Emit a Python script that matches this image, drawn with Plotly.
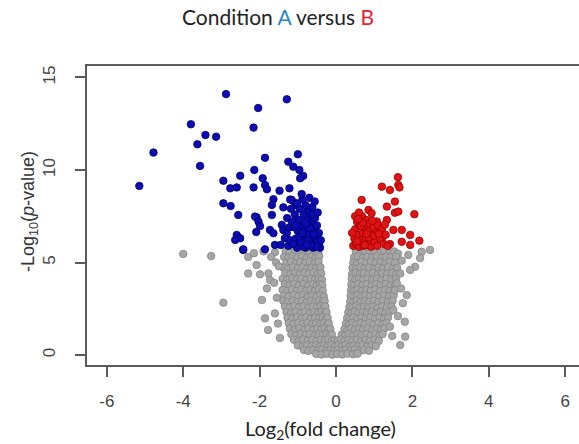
import plotly.graph_objects as go

# ---------------- data ----------------
blue_x = [-2.88, -3.80, -3.42, -3.14, -3.63, -4.78, -3.56, -5.15, -2.16, -2.04,
          -1.29, -2.95, -2.51, -2.14, -2.77, -2.60, -2.16, -2.95, -2.76, -2.56,
          -2.08, -2.60, -2.51, -2.64, -2.43, -1.86, -1.00, -1.25, -1.12, -0.96,
          -0.86, -0.94, -1.92, -1.86, -1.81, -1.48, -1.22, -1.64, -1.68, -1.38,
          -1.16, -1.07, -2.12, -2.03, -1.99, -1.68, -1.73, -1.64, -1.42, -1.38,
          -1.29, -1.34, -1.86, -2.43, -2.09, -1.60, -1.25, -1.45, -1.20, -1.22,
          -1.28, -1.18, -1.20,
          -0.42, -0.45, -0.48, -0.50, -0.52, -0.55, -0.58, -0.60, -0.60, -0.62,
          -0.65, -0.66, -0.68, -0.70, -0.70, -0.72, -0.74, -0.75, -0.78, -0.78,
          -0.80, -0.80, -0.82, -0.85, -0.85, -0.88, -0.88, -0.90, -0.92, -0.95,
          -0.95, -0.98, -1.00, -1.02, -1.02, -1.05, -1.08, -1.10, -1.12, -1.15,
          -0.50, -0.55, -0.45, -0.62, -0.70, -0.40, -0.52, -0.58, -0.66, -0.74,
          -0.84, -0.92, -0.68, -0.60, -0.80, -1.05, -0.96, -0.88, -0.76, -0.48,
          -0.56, -0.90]
blue_y = [14.10, 12.47, 11.89, 11.80, 11.39, 10.94, 10.22, 9.14, 12.29, 13.35,
          13.82, 9.42, 9.69, 10.00, 9.01, 9.06, 9.06, 8.20, 8.05, 7.57,
          7.44, 6.49, 6.31, 6.22, 5.68, 10.66, 10.85, 10.45, 10.18, 10.00,
          9.68, 9.55, 9.55, 9.19, 8.96, 8.88, 9.01, 8.42, 8.11, 7.98,
          8.38, 8.11, 7.48, 7.21, 6.97, 7.57, 6.76, 6.58, 7.03, 6.76,
          6.58, 6.31, 5.71, 5.71, 6.65, 5.95, 5.90, 5.95, 6.20, 6.90,
          7.40, 7.90, 8.40,
          5.80, 6.00, 6.30, 5.90, 6.60, 6.10, 6.90, 5.80, 6.40, 7.20,
          6.00, 6.70, 7.50, 5.90, 6.30, 7.00, 7.80, 6.50, 6.10, 7.30,
          5.80, 8.10, 6.80, 6.30, 7.60, 5.90, 8.40, 7.00, 6.50, 7.90,
          6.00, 7.30, 6.70, 5.80, 8.20, 6.30, 7.60, 6.90, 6.00, 7.20,
          7.00, 7.40, 6.60, 8.00, 8.50, 6.20, 5.85, 6.55, 5.95, 6.20,
          5.85, 6.10, 6.85, 7.60, 7.10, 7.00, 6.40, 6.60, 5.95, 7.70,
          8.30, 8.70]

red_x = [1.62, 1.20, 1.41, 1.63, 1.66, 0.67, 1.54, 1.33, 0.85, 0.93,
         1.54, 1.63, 2.05, 1.33, 1.07, 1.50, 1.72, 1.94, 1.72, 2.18,
         1.94, 1.20, 1.41, 0.89,
         0.45, 0.48, 0.50, 0.52, 0.55, 0.58, 0.60, 0.62, 0.65, 0.68,
         0.70, 0.72, 0.75, 0.78, 0.80, 0.82, 0.85, 0.88, 0.90, 0.92,
         0.95, 0.98, 1.00, 1.05, 1.08, 1.10, 1.15, 1.20, 1.25, 1.30,
         1.35, 0.50, 0.60, 0.55, 0.65, 0.75, 0.85, 0.95, 1.00, 0.70,
         1.12, 1.28, 0.42, 0.58, 0.80]
red_y = [9.61, 9.10, 8.92, 9.19, 9.06, 8.38, 8.29, 8.02, 7.84, 7.66,
         7.69, 7.75, 7.61, 7.30, 7.21, 6.76, 6.76, 6.49, 6.12, 6.18,
         5.95, 6.27, 6.00, 5.90,
         5.90, 6.30, 6.80, 6.00, 7.20, 6.50, 5.85, 7.00, 6.20, 7.50,
         6.60, 5.90, 6.90, 6.30, 7.30, 6.00, 6.70, 7.10, 6.20, 5.85,
         6.50, 6.90, 6.10, 6.60, 5.90, 7.00, 6.30, 6.80, 6.00, 6.50,
         5.90, 7.50, 7.70, 6.15, 6.95, 5.95, 6.35, 7.25, 6.45, 7.15,
         6.55, 7.05, 6.60, 7.35, 6.55]

# grey (not significant) genes, one line per band of -log10(p)
grey_points = [
    (-1.32, 5.62), (-1.20, 5.55), (-1.07, 5.63), (-0.95, 5.52), (-0.82, 5.60), (-0.70, 5.55), (-0.57, 5.62), (-0.46, 5.50),
    (0.52, 5.58), (0.64, 5.52), (0.76, 5.62), (0.88, 5.55), (1.01, 5.60), (1.14, 5.50), (1.27, 5.62), (1.40, 5.54), (1.52, 5.60), (1.62, 5.48),
    (-1.36, 5.30), (-1.25, 5.25), (-1.13, 5.34), (-1.01, 5.27), (-0.89, 5.33), (-0.77, 5.24), (-0.65, 5.31), (-0.54, 5.26), (-0.44, 5.32),
    (0.47, 5.28), (0.58, 5.33), (0.70, 5.24), (0.82, 5.30), (0.94, 5.26), (1.07, 5.34), (1.19, 5.25), (1.31, 5.31), (1.44, 5.27), (1.57, 5.33),
    (-1.30, 4.98), (-1.18, 5.04), (-1.06, 4.95), (-0.94, 5.02), (-0.81, 4.97), (-0.69, 5.05), (-0.57, 4.96), (-0.46, 5.03),
    (0.45, 5.00), (0.55, 4.95), (0.67, 5.04), (0.79, 4.97), (0.91, 5.03), (1.03, 4.96), (1.16, 5.02), (1.29, 4.95), (1.41, 5.04), (1.54, 4.98),
    (-1.38, 4.72), (-1.26, 4.66), (-1.13, 4.74), (-1.00, 4.67), (-0.88, 4.73), (-0.76, 4.65), (-0.64, 4.72), (-0.52, 4.68), (-0.41, 4.74),
    (0.43, 4.70), (0.53, 4.66), (0.64, 4.74), (0.75, 4.67), (0.87, 4.72), (0.99, 4.65), (1.11, 4.73), (1.23, 4.68), (1.36, 4.74), (1.49, 4.66), (1.60, 4.71),
    (-1.33, 4.42), (-1.20, 4.37), (-1.07, 4.44), (-0.95, 4.36), (-0.83, 4.43), (-0.71, 4.38), (-0.59, 4.45), (-0.48, 4.37), (-0.39, 4.42),
    (0.42, 4.38), (0.51, 4.44), (0.62, 4.36), (0.73, 4.43), (0.85, 4.37), (0.97, 4.44), (1.09, 4.36), (1.21, 4.42), (1.34, 4.38), (1.47, 4.44), (1.58, 4.37),
    (-1.40, 4.12), (-1.28, 4.06), (-1.15, 4.14), (-1.03, 4.07), (-0.91, 4.13), (-0.78, 4.05), (-0.66, 4.12), (-0.55, 4.07), (-0.45, 4.13), (-0.37, 4.06),
    (0.41, 4.12), (0.50, 4.05), (0.60, 4.13), (0.71, 4.06), (0.83, 4.12), (0.95, 4.07), (1.07, 4.14), (1.19, 4.05), (1.32, 4.12), (1.45, 4.07), (1.57, 4.13),
    (-1.34, 3.82), (-1.22, 3.76), (-1.09, 3.84), (-0.97, 3.77), (-0.85, 3.83), (-0.73, 3.75), (-0.61, 3.82), (-0.50, 3.76), (-0.42, 3.83), (-0.36, 3.77),
    (0.40, 3.80), (0.48, 3.75), (0.58, 3.84), (0.69, 3.76), (0.81, 3.82), (0.93, 3.75), (1.05, 3.83), (1.17, 3.77), (1.30, 3.84), (1.43, 3.76), (1.55, 3.81),
    (-1.40, 3.52), (-1.28, 3.46), (-1.16, 3.54), (-1.03, 3.47), (-0.91, 3.53), (-0.79, 3.45), (-0.67, 3.52), (-0.56, 3.47), (-0.45, 3.54), (-0.35, 3.46),
    (0.39, 3.50), (0.47, 3.45), (0.56, 3.54), (0.67, 3.46), (0.79, 3.52), (0.91, 3.47), (1.03, 3.53), (1.15, 3.45), (1.28, 3.52), (1.41, 3.47), (1.53, 3.54),
    (-1.36, 3.22), (-1.24, 3.16), (-1.11, 3.24), (-0.99, 3.17), (-0.86, 3.23), (-0.74, 3.15), (-0.62, 3.22), (-0.51, 3.17), (-0.41, 3.24), (-0.32, 3.16),
    (0.38, 3.20), (0.46, 3.15), (0.55, 3.24), (0.66, 3.16), (0.77, 3.22), (0.89, 3.17), (1.01, 3.23), (1.13, 3.15), (1.26, 3.22), (1.39, 3.17), (1.51, 3.23),
    (-1.38, 2.92), (-1.26, 2.86), (-1.13, 2.94), (-1.01, 2.87), (-0.89, 2.93), (-0.77, 2.85), (-0.65, 2.92), (-0.54, 2.87), (-0.44, 2.94), (-0.35, 2.86), (-0.30, 2.92),
    (0.37, 2.90), (0.45, 2.85), (0.54, 2.94), (0.64, 2.86), (0.75, 2.92), (0.87, 2.87), (0.99, 2.93), (1.11, 2.85), (1.23, 2.92), (1.36, 2.87), (1.48, 2.93),
    (-1.34, 2.62), (-1.22, 2.56), (-1.09, 2.64), (-0.97, 2.57), (-0.85, 2.63), (-0.73, 2.55), (-0.61, 2.62), (-0.50, 2.57), (-0.40, 2.64), (-0.32, 2.56), (-0.28, 2.62),
    (0.35, 2.60), (0.43, 2.55), (0.52, 2.64), (0.62, 2.56), (0.73, 2.62), (0.85, 2.57), (0.97, 2.63), (1.09, 2.55), (1.21, 2.62), (1.33, 2.57), (1.45, 2.63),
    (-1.30, 2.32), (-1.18, 2.26), (-1.05, 2.34), (-0.93, 2.27), (-0.81, 2.33), (-0.69, 2.25), (-0.57, 2.32), (-0.47, 2.27), (-0.37, 2.34), (-0.29, 2.26), (-0.25, 2.31),
    (0.32, 2.30), (0.40, 2.25), (0.49, 2.34), (0.59, 2.26), (0.70, 2.32), (0.81, 2.27), (0.93, 2.33), (1.05, 2.25), (1.17, 2.32), (1.29, 2.27), (1.40, 2.33),
    (-1.27, 2.02), (-1.15, 1.96), (-1.02, 2.04), (-0.90, 1.97), (-0.78, 2.03), (-0.66, 1.95), (-0.55, 2.02), (-0.45, 1.97), (-0.35, 2.04), (-0.27, 1.96), (-0.22, 2.01),
    (0.29, 2.00), (0.37, 1.95), (0.46, 2.04), (0.56, 1.96), (0.67, 2.02), (0.78, 1.97), (0.90, 2.03), (1.02, 1.95), (1.14, 2.02), (1.26, 1.97), (1.36, 2.03),
    (-1.24, 1.72), (-1.12, 1.66), (-0.99, 1.74), (-0.87, 1.67), (-0.75, 1.73), (-0.63, 1.65), (-0.52, 1.72), (-0.42, 1.67), (-0.32, 1.74), (-0.24, 1.66), (-0.19, 1.71),
    (0.26, 1.70), (0.34, 1.65), (0.43, 1.74), (0.53, 1.66), (0.64, 1.72), (0.75, 1.67), (0.87, 1.73), (0.99, 1.65), (1.11, 1.72), (1.23, 1.67), (1.32, 1.73),
    (-1.21, 1.42), (-1.09, 1.36), (-0.96, 1.44), (-0.84, 1.37), (-0.72, 1.43), (-0.60, 1.35), (-0.49, 1.42), (-0.39, 1.37), (-0.29, 1.44), (-0.21, 1.36), (-0.15, 1.41),
    (0.22, 1.40), (0.30, 1.35), (0.39, 1.44), (0.49, 1.36), (0.60, 1.42), (0.71, 1.37), (0.83, 1.43), (0.95, 1.35), (1.07, 1.42), (1.18, 1.37), (1.27, 1.43),
    (-1.17, 1.12), (-1.05, 1.06), (-0.92, 1.14), (-0.80, 1.07), (-0.68, 1.13), (-0.56, 1.05), (-0.45, 1.12), (-0.35, 1.07), (-0.25, 1.14), (-0.17, 1.06), (-0.11, 1.11),
    (0.15, 1.10), (0.24, 1.05), (0.34, 1.14), (0.45, 1.06), (0.56, 1.12), (0.67, 1.07), (0.79, 1.13), (0.91, 1.05), (1.03, 1.12), (1.14, 1.07), (1.22, 1.13),
    (-1.10, 0.82), (-0.98, 0.76), (-0.86, 0.84), (-0.74, 0.77), (-0.62, 0.83), (-0.51, 0.75), (-0.40, 0.82), (-0.30, 0.77), (-0.20, 0.84), (-0.11, 0.76), (-0.03, 0.80),
    (0.05, 0.78), (0.13, 0.84), (0.22, 0.76), (0.32, 0.82), (0.43, 0.77), (0.54, 0.83), (0.65, 0.75), (0.77, 0.82), (0.89, 0.77), (1.01, 0.83), (1.12, 0.76),
    (-1.00, 0.52), (-0.88, 0.46), (-0.76, 0.54), (-0.64, 0.47), (-0.53, 0.53), (-0.42, 0.45), (-0.32, 0.52), (-0.22, 0.47), (-0.12, 0.54), (-0.03, 0.46),
    (0.06, 0.52), (0.15, 0.47), (0.25, 0.54), (0.35, 0.46), (0.46, 0.52), (0.57, 0.47), (0.69, 0.53), (0.81, 0.45), (0.93, 0.52), (1.04, 0.47),
    (-0.84, 0.27), (-0.72, 0.22), (-0.60, 0.28), (-0.48, 0.23), (-0.37, 0.29), (-0.26, 0.21), (-0.15, 0.28), (-0.05, 0.23), (0.05, 0.29),
    (0.15, 0.22), (0.26, 0.28), (0.37, 0.23), (0.49, 0.29), (0.61, 0.21), (0.73, 0.27), (0.86, 0.23),
    (-0.52, 0.06), (-0.38, 0.03), (-0.24, 0.07), (-0.10, 0.02), (0.03, 0.06), (0.16, 0.03), (0.30, 0.07), (0.44, 0.04), (0.56, 0.07),
    # scattered outliers
    (-4.00, 5.46), (-3.27, 5.35), (-2.95, 2.83), (-2.30, 5.30), (-2.08, 4.86), (-2.30, 4.41), (-1.99, 4.36), (-1.77, 4.41),
    (-1.81, 3.60), (-1.86, 1.98), (-1.60, 2.25), (-1.73, 4.05), (-1.94, 2.97), (-1.78, 1.35), (-1.47, 0.92), (-1.57, 5.00),
    (-1.60, 5.55), (-1.70, 5.30), (-1.50, 4.80), (-2.15, 5.50), (-1.90, 5.60), (-1.55, 3.10), (-1.52, 1.70), (-1.62, 3.90),
    (1.85, 3.24), (1.81, 0.99), (1.50, 2.43), (1.41, 1.53), (2.07, 4.77), (2.46, 5.68), (2.24, 5.58), (1.89, 5.41),
    (1.68, 4.41), (1.59, 3.88), (1.80, 1.80), (1.68, 0.54), (1.54, 3.50), (1.94, 4.60), (2.20, 5.24), (1.47, 1.03),
    (1.72, 5.10), (1.75, 2.80), (1.62, 2.10), (1.70, 3.60),
]

x_ticks = [-6, -4, -2, 0, 2, 4, 6]
y_ticks = [0, 5, 10, 15]

# ---------------- figure ----------------
grey_x = [p[0] for p in grey_points]
grey_y = [p[1] for p in grey_points]

fig = go.Figure()
fig.add_trace(go.Scatter(
    x=grey_x, y=grey_y, mode="markers", hoverinfo="skip",
    marker=dict(size=7.5, color="#a6a6a6", line=dict(color="#858585", width=0.8)),
))
fig.add_trace(go.Scatter(
    x=blue_x, y=blue_y, mode="markers", hoverinfo="skip",
    marker=dict(size=7.5, color="#0c0cb0", line=dict(color="#00006e", width=0.8)),
))
fig.add_trace(go.Scatter(
    x=red_x, y=red_y, mode="markers", hoverinfo="skip",
    marker=dict(size=7.5, color="#e01414", line=dict(color="#9a0000", width=0.8)),
))

axis_font = dict(family="Liberation Sans, Arial, sans-serif", size=17, color="#444444")

fig.update_layout(
    width=579, height=444,
    margin=dict(l=87, r=0, t=66, b=79),
    paper_bgcolor="white", plot_bgcolor="white",
    showlegend=False,
    title=dict(
        text="Condition <span style='color:#1f88c2'>A</span> versus "
             "<span style='color:#e3222b'>B</span>",
        x=278 / 579, xanchor="center", y=1 - 18 / 444, yanchor="middle",
        font=dict(family="Lato, Carlito, sans-serif", size=21, color="#222222"),
    ),
    xaxis=dict(
        range=[-6.52, 6.36], tickvals=x_ticks, ticktext=[str(v) for v in x_ticks],
        showgrid=False, zeroline=False,
        showline=True, linecolor="#5a5a5a", linewidth=1.5, mirror=True,
        ticks="outside", ticklen=10, tickwidth=1.5, tickcolor="#5a5a5a",
        tickfont=axis_font, ticklabelstandoff=10,
    ),
    yaxis=dict(
        range=[-0.54, 15.62], tickvals=y_ticks, ticktext=[str(v) for v in y_ticks],
        showgrid=False, zeroline=False,
        showline=True, linecolor="#5a5a5a", linewidth=1.5, mirror=False,
        ticks="outside", ticklen=10, tickwidth=1.5, tickcolor="#5a5a5a",
        tickfont=axis_font, tickangle=-90, ticklabelstandoff=13,
    ),
    annotations=[
        dict(text="Log<sub>2</sub>(fold change)", xref="paper", yref="paper",
             x=(320 - 87) / 492, y=-(429 - 365) / 299, xanchor="center", yanchor="middle",
             showarrow=False,
             font=dict(family="Lato, Carlito, sans-serif", size=20, color="#222222")),
        dict(text="-Log<sub>10</sub>(<i>p</i>-value)", xref="paper", yref="paper",
             x=(29 - 87) / 492, y=(365 - 212) / 299, xanchor="center", yanchor="middle",
             textangle=-90, showarrow=False,
             font=dict(family="Liberation Sans, Arial, sans-serif", size=18, color="#333333")),
    ],
)

fig.write_html("out.html")
